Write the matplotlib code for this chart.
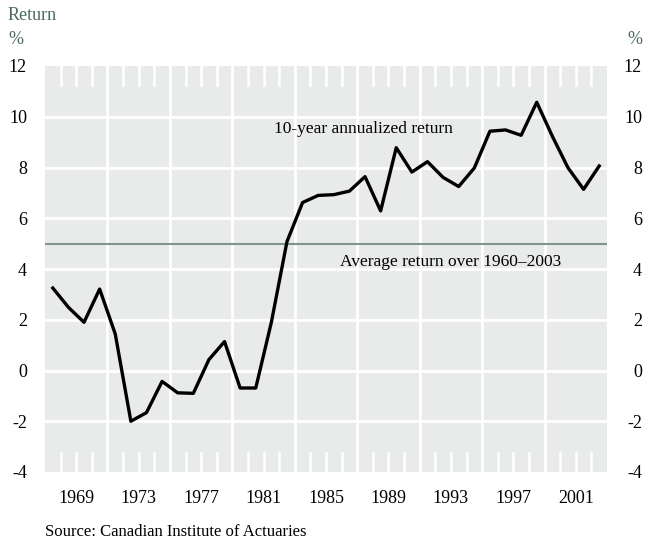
import numpy as np
import matplotlib
matplotlib.use('Agg')
import matplotlib.pyplot as plt

# 10-year annualized return, one value per year (plotted mid-year)
years = np.arange(1967, 2003)
returns = [3.25, 2.49, 1.90, 3.21, 1.44, -2.0, -1.66, -0.43, -0.88, -0.90,
           0.43, 1.14, -0.69, -0.69, 1.90, 5.08, 6.62, 6.90, 6.93, 7.07,
           7.64, 6.29, 8.78, 7.82, 8.23, 7.61, 7.25, 7.98, 9.43, 9.48,
           9.27, 10.57, 9.23, 7.99, 7.14, 8.06]
avg_return = 5.0

year_labels = ['1969', '1973', '1977', '1981', '1985', '1989', '1993', '1997', '2001']
year_label_pos = [1969, 1973, 1977, 1981, 1985, 1989, 1993, 1997, 2001]
yticks = [-4, -2, 0, 2, 4, 6, 8, 10, 12]

plt.rcParams['font.family'] = ['Liberation Serif', 'DejaVu Serif']
plt.rcParams['axes.unicode_minus'] = False

green = '#4b6a5f'
bg = '#e9ebea'

fig = plt.figure(figsize=(6.47, 5.41), dpi=100)
ax = fig.add_axes([45/647, 1-472/541, 562/647, 406/541])
ax.set_facecolor(bg)
ax.set_xlim(1967, 2003)
ax.set_ylim(-4, 12)

# white grid
for g in range(1971, 2003, 4):
    ax.axvline(g, color='white', lw=2, zorder=1)
for v in range(-2, 12, 2):
    ax.axhline(v, color='white', lw=2, zorder=1)
# small white year ticks at top and bottom
for yr in range(1968, 2003):
    if (yr - 1967) % 4 == 0:
        continue
    ax.plot([yr, yr], [12, 12 - 0.75], color='white', lw=1.8, zorder=1)
    ax.plot([yr, yr], [-4, -4 + 0.75], color='white', lw=1.8, zorder=1)

ax.axhline(avg_return, color='#7f948e', lw=1.5, zorder=2)
ax.plot(years + 0.5, returns, color='black', lw=2.4, zorder=3)

ax.text(1987.4, 9.5, '10-year annualized return', fontsize=12.5,
        ha='center', va='center')
ax.text(1993.0, 4.27, 'Average return over 1960\u20132003', fontsize=12.5,
        ha='center', va='center')

for s in ax.spines.values():
    s.set_visible(False)

ax.set_xticks(year_label_pos)
ax.set_xticklabels(year_labels)
ax.set_yticks(yticks)
ax.tick_params(axis='both', length=0, labelsize=13)
ax.tick_params(axis='x', pad=13)
ax.tick_params(axis='y', pad=13)

# right-side labels, right aligned near the figure edge
for v in yticks:
    ax.text(1 + 35/562, v, str(v), transform=ax.get_yaxis_transform(),
            fontsize=13, ha='right', va='center_baseline')

fig.text(8/647, 1-15/541, 'Return', color=green, fontsize=13, va='center', ha='left')
fig.text(8/647, 1-39/541, '%', color=green, fontsize=13, va='center', ha='left')
fig.text(642/647, 1-39/541, '%', color=green, fontsize=13, va='center', ha='right')
fig.text(45/647, 1-532/541, 'Source: Canadian Institute of Actuaries',
         fontsize=12, va='center', ha='left')

fig.savefig('out.png', dpi=100)
